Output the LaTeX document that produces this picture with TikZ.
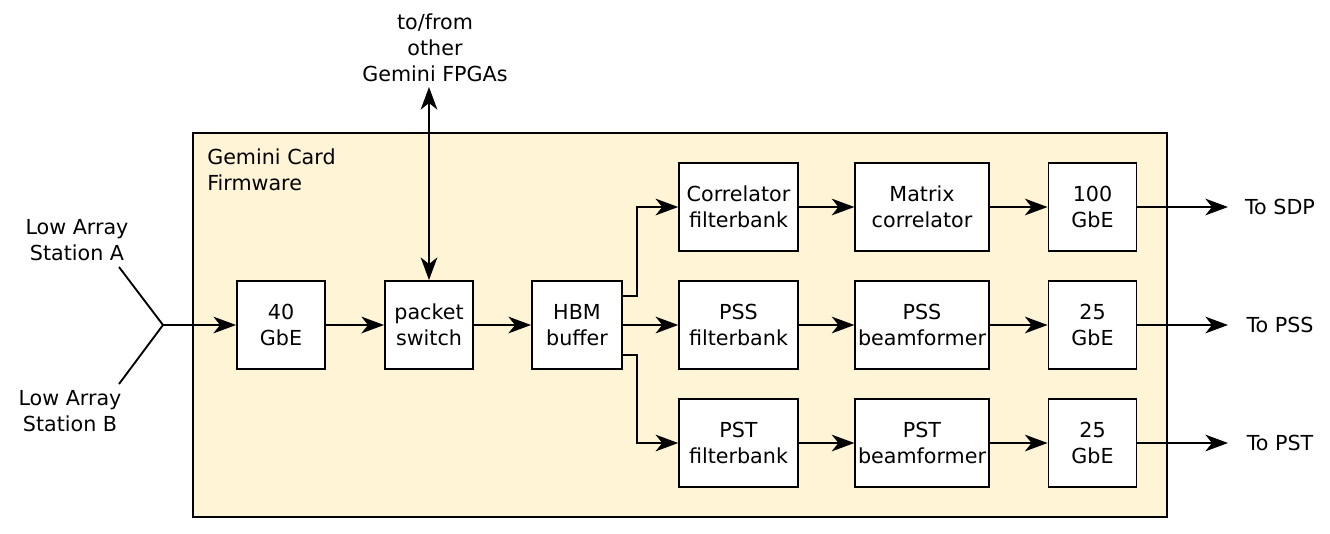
\documentclass[tikz,border=0pt]{standalone}
\usepackage{fontspec}
\setmainfont{DejaVu Sans}
\usetikzlibrary{arrows.meta,calc}
\definecolor{cardfill}{HTML}{FFF4D5}
\tikzset{
  tip/.tip={Stealth[length=17pt,width=12.5pt,inset=5pt]},
  blk/.style={draw=black,fill=white,line width=1.4pt,inner sep=0pt,align=center,
    font=\fontsize{15.5}{19.5}\selectfont},
  sq/.style={blk,minimum width=66pt,minimum height=66pt},
  wd/.style={blk,minimum width=89pt,minimum height=66.5pt},
  bf/.style={blk,minimum width=100pt,minimum height=66.5pt},
  lbl/.style={align=center,inner sep=0pt,font=\fontsize{15.5}{19.5}\selectfont},
  conn/.style={line width=1.4pt,-tip},
  wire/.style={line width=1.4pt}
}
\begin{document}
\begin{tikzpicture}[x=0.75pt,y=-0.75pt]
\useasboundingbox (0,0) rectangle (1330,533);
\draw[line width=1.4pt,fill=cardfill] (193,133) rectangle (1167,517);
\node[lbl,align=left,anchor=west] (card) at (207,170) {Gemini Card\\Firmware};

\node[sq] (g40) at (281,325) {40\\GbE};
\node[sq] (ps) at (429,325) {packet\\switch};
\node[blk,minimum width=67.5pt,minimum height=66.5pt] (hbm) at (577,325) {HBM\\buffer};
\node[wd] (cf) at (738.5,207) {Correlator\\filterbank};
\node[wd] (pssf) at (738.5,325) {PSS\\filterbank};
\node[wd] (pstf) at (738.5,443) {PST\\filterbank};
\node[bf] (mc) at (922,207) {Matrix\\correlator};
\node[bf] (pssb) at (922,325) {PSS\\beamformer};
\node[bf] (pstb) at (922,443) {PST\\beamformer};
\node[sq] (g100) at (1092.5,207) {100\\GbE};
\node[sq] (g25a) at (1092.5,325) {25\\GbE};
\node[sq] (g25b) at (1092.5,443) {25\\GbE};

\node[lbl] (sta) at (77,240) {Low Array\\Station A};
\node[lbl] (stb) at (70,411) {Low Array\\Station B};
\node[lbl] (fpga) at (435,48) {to/from\\other\\Gemini FPGAs};
\node[lbl] (sdp) at (1280,207) {To SDP};
\node[lbl] (pss) at (1280,325) {To PSS};
\node[lbl] (pst) at (1280,443) {To PST};

\coordinate (j) at (163,325);
\coordinate (ae) at (119,267);
\coordinate (be) at (119,384);
\coordinate (top) at (429,87);
\coordinate (osdp) at (1228,207);
\coordinate (opss) at (1228,325);
\coordinate (opst) at (1228,443);

\draw[wire] (ae) -- (j) -- (be);
\draw[conn] (j) -- (g40.west);
\draw[conn] (g40) -- (ps);
\draw[conn] (ps) -- (hbm);
\draw[line width=1.4pt,tip-tip] (top) -- (ps.north);
\draw[conn] ($(hbm.east)+(0,-29)$) -- ++(14,0) |- (cf.west);
\draw[conn] (hbm.east) -- (pssf.west);
\draw[conn] ($(hbm.east)+(0,30)$) -- ++(14,0) |- (pstf.west);
\draw[conn] (cf) -- (mc);
\draw[conn] (pssf) -- (pssb);
\draw[conn] (pstf) -- (pstb);
\draw[conn] (mc) -- (g100);
\draw[conn] (pssb) -- (g25a);
\draw[conn] (pstb) -- (g25b);
\draw[conn] (g100.east) -- (osdp);
\draw[conn] (g25a.east) -- (opss);
\draw[conn] (g25b.east) -- (opst);
\end{tikzpicture}
\end{document}
